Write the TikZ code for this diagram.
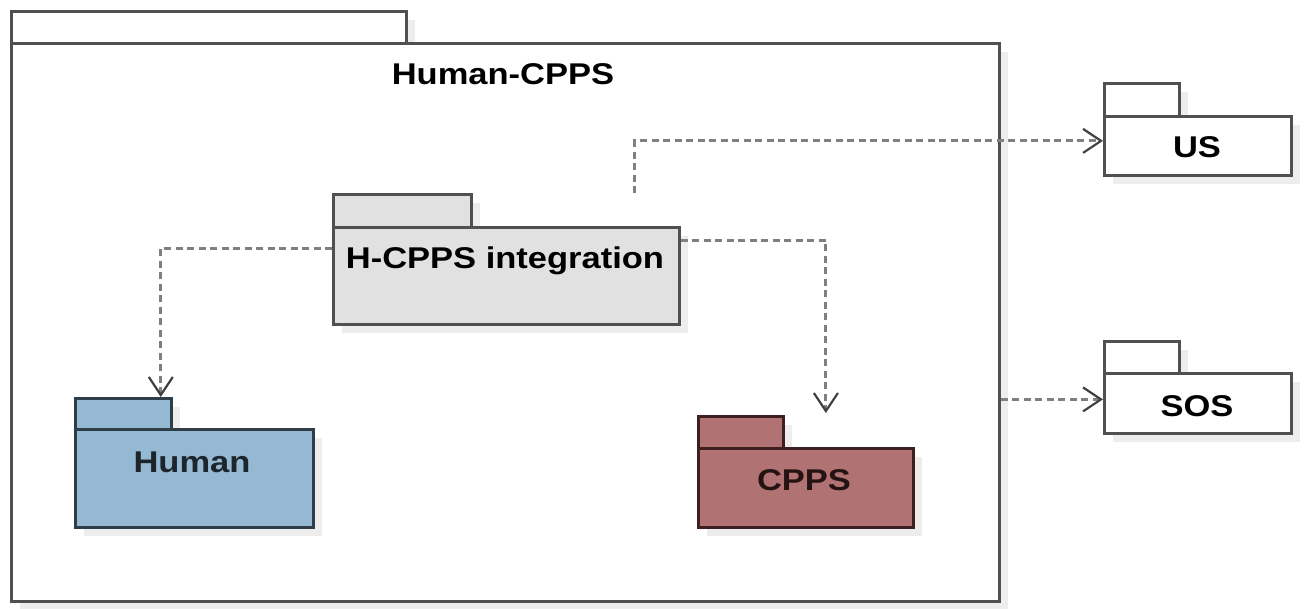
\documentclass[tikz,border=0pt]{standalone}
\usepackage{fontspec}
\setmainfont{Liberation Sans}
\newfontfamily\lab[FakeStretch=1.15]{Liberation Sans}
\usetikzlibrary{arrows.meta,shadows}
\definecolor{bgray}{HTML}{505050}
\definecolor{hfill}{HTML}{E1E1E1}
\definecolor{humfill}{HTML}{95B9D2}
\definecolor{humline}{HTML}{2E3D48}
\definecolor{cppsfill}{HTML}{B07272}
\definecolor{cppsline}{HTML}{3E1F1F}
\definecolor{dashgray}{HTML}{7F7F7F}
\definecolor{shadowgray}{HTML}{EDEDED}
\tikzset{
  pkg/.style={draw=bgray, line width=2.8pt, fill=white, inner sep=0pt,
    drop shadow={shadow xshift=9pt, shadow yshift=-9pt, fill=shadowgray, opacity=1}},
  lbl/.style={font=\lab\bfseries\fontsize{30}{36}\selectfont, inner sep=0pt},
  dep/.style={draw=dashgray, line width=3pt, dash pattern=on 7pt off 4.5pt,
    -{Straight Barb[length=18pt,width=24pt,line width=2.2pt,color=black!75]}}
}
\begin{document}
\begin{tikzpicture}[x=1pt,y=-1pt]
\useasboundingbox (0,0) rectangle (1309,608);
% outer package
\node[pkg, minimum width=395pt, minimum height=32pt, anchor=north west] (outertab) at (10,10) {};
\node[pkg, minimum width=988pt, minimum height=558pt, anchor=north west] (outer) at (10,42) {};
\node[lbl] (outerlbl) at (503,74) {Human-CPPS};
% H-CPPS integration
\node[pkg, fill=hfill, minimum width=138pt, minimum height=33pt, anchor=north west] (hcppstab) at (332,193) {};
\node[pkg, fill=hfill, minimum width=346pt, minimum height=97pt, anchor=north west] (hcpps) at (332,226) {};
\node[lbl] (hcppslbl) at (505,261) {H-CPPS integration};
% Human
\node[pkg, draw=humline, fill=humfill, minimum width=96pt, minimum height=31pt, anchor=north west] (humantab) at (74,397) {};
\node[pkg, draw=humline, fill=humfill, minimum width=238pt, minimum height=98pt, anchor=north west] (human) at (74,428) {};
\node[lbl, text=humline!60!black] (humanlbl) at (192,462) {Human};
% CPPS
\node[pkg, draw=cppsline, fill=cppsfill, minimum width=85pt, minimum height=32pt, anchor=north west] (cppstab) at (697,415) {};
\node[pkg, draw=cppsline, fill=cppsfill, minimum width=215pt, minimum height=79pt, anchor=north west] (cpps) at (697,447) {};
\node[lbl, text=cppsline!60!black] (cppslbl) at (804,480) {CPPS};
% US
\node[pkg, minimum width=75pt, minimum height=33pt, anchor=north west] (ustab) at (1103,82) {};
\node[pkg, minimum width=187pt, minimum height=59pt, anchor=north west] (us) at (1103,115) {};
\node[lbl] (uslbl) at (1197,147) {US};
% SOS
\node[pkg, minimum width=75pt, minimum height=32pt, anchor=north west] (sostab) at (1103,340) {};
\node[pkg, minimum width=187pt, minimum height=60pt, anchor=north west] (sos) at (1103,372) {};
\node[lbl] (soslbl) at (1197,406) {SOS};
% connectors
\coordinate (usstart) at ([xshift=-46pt,yshift=33pt]hcpps.north east);
\coordinate (usend) at ([yshift=5pt]us.west);
\coordinate (cppsend) at ([xshift=20pt,yshift=34pt]cpps.north);
\coordinate (humanend) at ([xshift=-12pt]humantab.north east);
\coordinate (sosend) at ([yshift=4pt]sos.west);
\draw[dep] ([yshift=-22pt]hcpps.north west) -| (humanend);
\draw[dep] ([yshift=-14pt]hcpps.north east) -| (cppsend);
\draw[dep] (usstart) |- (usend);
\draw[dep] (outer.east |- sosend) -- (sosend);
\end{tikzpicture}
\end{document}
